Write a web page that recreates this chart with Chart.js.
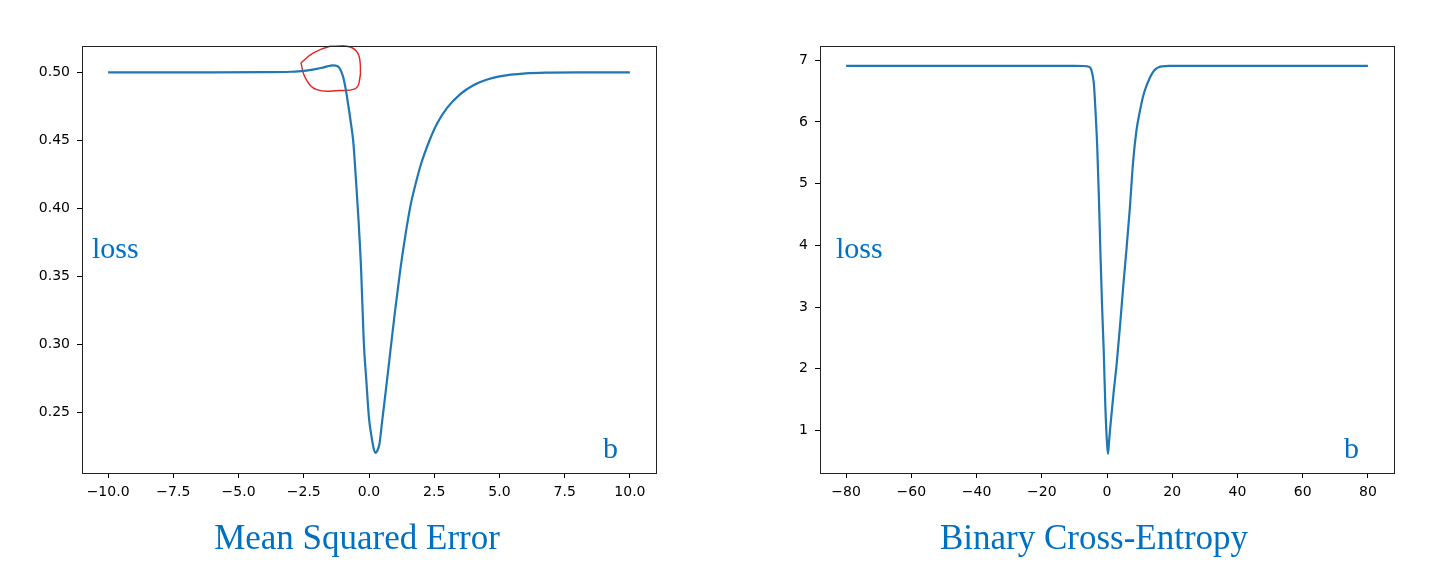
<!DOCTYPE html>
<html>
<head>
<meta charset="utf-8">
<script src="https://cdn.jsdelivr.net/npm/chart.js@4/dist/chart.umd.min.js"></script>
<style>
  html, body { margin: 0; padding: 0; background: #fff; overflow: hidden; }
  body { width: 1431px; height: 567px; position: relative; }
  .box { position: absolute; top: 0; height: 567px; }
  .note { position: absolute; font-family: "Liberation Serif", "Times New Roman", serif; color: #0070C0; white-space: nowrap; }
  .title { font-size: 35px; line-height: 35px; transform: translateX(-50%); }
  .lbl { font-size: 30px; line-height: 30px; }
</style>
</head>
<body>
<div class="box" style="left:0;width:700px"><canvas id="mse"></canvas></div>
<div class="box" style="left:738px;width:693px"><canvas id="bce"></canvas></div>

<div class="note lbl" style="left:92px;top:233px">loss</div>
<div class="note lbl" style="left:603px;top:433px">b</div>
<div class="note title" style="left:357px;top:520px">Mean Squared Error</div>

<div class="note lbl" style="left:836px;top:233px">loss</div>
<div class="note lbl" style="left:1344px;top:433px">b</div>
<div class="note title" style="left:1094px;top:520px">Binary Cross-Entropy</div>

<script>
// values
const mseB = [-10, -6, -4, -3, -2.5, -2, -1.8, -1.6, -1.4, -1.2, -1.0, -0.9, -0.8, -0.7, -0.6, -0.5, -0.4, -0.3, -0.2, -0.1,
  0, 0.1, 0.2, 0.25, 0.3, 0.4, 0.5, 0.6, 0.8, 1.0, 1.2, 1.4, 1.6, 1.8, 2.0, 2.3, 2.6, 3.0, 3.5, 4.0, 4.5, 5, 6, 7, 8, 10];
const mseLoss = [0.5, 0.5, 0.5001, 0.5004, 0.501, 0.5025, 0.5033, 0.5043, 0.5051, 0.5045, 0.4972, 0.4885, 0.4765, 0.4635, 0.4485, 0.421, 0.391, 0.354, 0.302, 0.273,
  0.246, 0.232, 0.2222, 0.2205, 0.2215, 0.227, 0.243, 0.259, 0.292, 0.325, 0.355, 0.381, 0.403, 0.419, 0.433, 0.449, 0.462, 0.474, 0.484, 0.4905, 0.4945, 0.497, 0.4992, 0.4998, 0.5, 0.5];

// hand-drawn red loop around the bump
const loopB = [-2.61, -2.13, -1.49, -0.99, -0.48, -0.33, -0.38, -0.54, -1.11, -2.0, -2.44, -2.61];
const loopLoss = [0.5069, 0.5142, 0.5191, 0.5196, 0.5154, 0.5044, 0.4922, 0.4878, 0.4866, 0.4873, 0.4959, 0.5069];

const bceB = [-80, -40, -10, -7, -6, -5, -4.5, -4, -3.5, -3, -2.5, -2, -1.5, -1, -0.5, 0, 0.3, 0.6,
  1, 2, 3, 4, 5, 6, 7, 8, 9, 10, 11, 12, 13, 14, 15, 16, 17, 19, 25, 40, 80];
const bceLoss = [6.908, 6.908, 6.908, 6.906, 6.9, 6.87, 6.78, 6.6, 6.15, 5.6, 4.8, 3.85, 3.0, 2.28, 1.38, 0.8, 0.62, 0.8,
  1.05, 1.6, 2.1, 2.7, 3.35, 3.95, 4.6, 5.35, 5.85, 6.15, 6.4, 6.57, 6.7, 6.8, 6.86, 6.89, 6.9, 6.907, 6.908, 6.908, 6.908];

const mseXTicks = [-10, -7.5, -5, -2.5, 0, 2.5, 5, 7.5, 10];
const mseYTicks = [0.25, 0.30, 0.35, 0.40, 0.45, 0.50];
const bceXTicks = [-80, -60, -40, -20, 0, 20, 40, 60, 80];
const bceYTicks = [1, 2, 3, 4, 5, 6, 7];

const frame = {
  id: 'frame',
  afterDraw(chart) {
    const a = chart.chartArea, ctx = chart.ctx;
    ctx.save();
    ctx.strokeStyle = '#222';
    ctx.lineWidth = 1;
    ctx.strokeRect(Math.round(a.left) + 0.5, Math.round(a.top) + 0.5, Math.round(a.right - a.left), Math.round(a.bottom - a.top));
    ctx.restore();
  }
};

const minus = s => s.replace('-', '\u2212');
const pts = (xs, ys) => xs.map((x, i) => ({ x: x, y: ys[i] }));

function makeChart(id, datasets, xTicks, yTicks, xRange, yRange, fmtX, fmtY, padRight) {
  const tickFont = { family: 'DejaVu Sans', size: 14 };
  new Chart(document.getElementById(id), {
    type: 'line',
    data: { datasets: datasets },
    options: {
      responsive: false,
      animation: false,
      events: [],
      layout: { padding: { left: 0, top: 46, right: padRight, bottom: 64 } },
      plugins: { legend: { display: false }, title: { display: false }, tooltip: { enabled: false } },
      scales: {
        x: {
          type: 'linear', min: xRange[0], max: xRange[1],
          afterBuildTicks: s => { s.ticks = xTicks.map(v => ({ value: v })); },
          afterFit: s => { s.height = 30; },
          grid: { drawOnChartArea: false, drawTicks: true, tickLength: 5, tickColor: '#000' },
          border: { display: true, color: '#222' },
          ticks: { font: tickFont, color: '#000', padding: 6, maxRotation: 0, callback: v => minus(fmtX(v)) }
        },
        y: {
          type: 'linear', min: yRange[0], max: yRange[1],
          afterBuildTicks: s => { s.ticks = yTicks.map(v => ({ value: v })); },
          afterFit: s => { s.width = 82; },
          grid: { drawOnChartArea: false, drawTicks: true, tickLength: 5, tickColor: '#000' },
          border: { display: true, color: '#222' },
          ticks: { font: tickFont, color: '#000', padding: 7, callback: v => minus(fmtY(v)) }
        }
      }
    },
    plugins: [frame]
  });
}

const lossLine = (xs, ys) => ({
  data: pts(xs, ys),
  borderColor: '#1f77b4',
  borderWidth: 2.2,
  pointRadius: 0,
  fill: false,
  cubicInterpolationMode: 'monotone'
});

const c1 = document.getElementById('mse'); c1.width = 700; c1.height = 567;
const c2 = document.getElementById('bce'); c2.width = 693; c2.height = 567;

makeChart('mse', [
  lossLine(mseB, mseLoss),
  {
    data: pts(loopB, loopLoss),
    borderColor: '#e52420',
    borderWidth: 1.4,
    pointRadius: 0,
    fill: false,
    tension: 0.45,
    clip: false
  }
], mseXTicks, mseYTicks, [-11, 11], [0.2057, 0.5193], v => v.toFixed(1), v => v.toFixed(2), 44);

makeChart('bce', [lossLine(bceB, bceLoss)], bceXTicks, bceYTicks, [-88, 88], [0.31, 7.23],
  v => String(v), v => String(v), 37);
</script>
</body>
</html>
